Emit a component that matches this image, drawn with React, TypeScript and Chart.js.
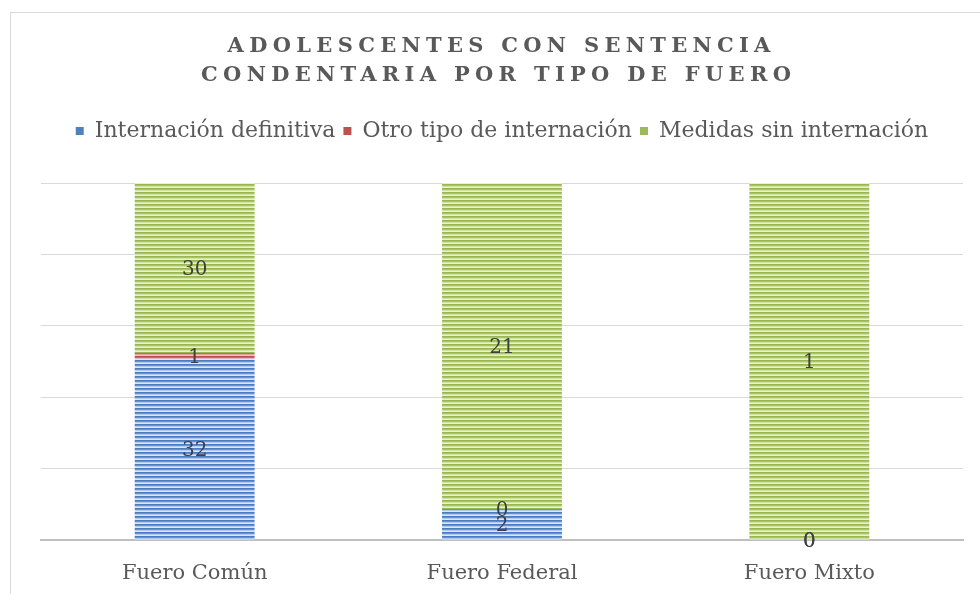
import React, { useEffect, useRef } from "react";
import { Chart, registerables } from "chart.js";

Chart.register(...registerables);

const categories = ["Fuero Común", "Fuero Federal", "Fuero Mixto"];
const seriesNames = ["Internación definitiva", "Otro tipo de internación", "Medidas sin internación"];
const internacionDefinitiva = [32, 2, 0];
const otroTipo = [1, 0, 0];
const medidasSin = [30, 21, 1];
const titleLines = ["ADOLESCENTES CON SENTENCIA", "CONDENTARIA POR TIPO DE FUERO"];

const FONT = '"DejaVu Serif", serif';

function stripe(rows: string[]): CanvasPattern | string {
  const c = document.createElement("canvas");
  c.width = 4;
  c.height = rows.length;
  const x = c.getContext("2d");
  if (!x) return rows[0];
  rows.forEach((col, r) => {
    x.fillStyle = col;
    x.fillRect(0, r, 4, 1);
  });
  return x.createPattern(c, "repeat") || rows[0];
}

export default function App() {
  const ref = useRef<HTMLCanvasElement | null>(null);
  useEffect(() => {
    const canvas = ref.current;
    if (!canvas) return;
    const raw = [internacionDefinitiva, otroTipo, medidasSin];
    const totals = categories.map((_, i) => raw.reduce((s, a) => s + a[i], 0));
    const pct = raw.map((arr) => arr.map((v, i) => (totals[i] ? (v / totals[i]) * 100 : 0)));
    const solid = ["#4f81bd", "#c0504d", "#9bbb59"];
    const fills = [
      stripe(["#4a7cc4", "#6390d0", "#b3cbec", "#dbe6f5"]),
      stripe(["#c0504d", "#cc6562", "#e4a09e", "#f0c4c3"]),
      stripe(["#98b84f", "#a8c466", "#d2e2a6", "#e9f0d4"]),
    ];

    const bgPlugin = {
      id: "bg",
      beforeDraw(chart: any) {
        const ctx = chart.ctx;
        ctx.save();
        ctx.fillStyle = "#ffffff";
        ctx.fillRect(0, 0, chart.width, chart.height);
        ctx.strokeStyle = "#d9d9d9";
        ctx.lineWidth = 1;
        ctx.strokeRect(10.5, 12.5, 1000, 1000);
        ctx.restore();
      },
    };

    const titlePlugin = {
      id: "spacedTitle",
      afterDraw(chart: any) {
        const ctx = chart.ctx;
        ctx.save();
        ctx.font = "bold 21px " + FONT;
        ctx.fillStyle = "#595959";
        ctx.textAlign = "center";
        ctx.textBaseline = "middle";
        const ls = 5.3;
        (ctx as any).letterSpacing = ls + "px";
        const cx = 499 + ls / 2;
        ctx.fillText(titleLines[0], cx, 47);
        ctx.fillText(titleLines[1], cx - 3, 76);
        ctx.restore();
      },
    };

    const labelPlugin = {
      id: "valueLabels",
      afterDatasetsDraw(chart: any) {
        const ctx = chart.ctx;
        ctx.save();
        ctx.font = "20px " + FONT;
        ctx.fillStyle = "#404040";
        ctx.textAlign = "center";
        ctx.textBaseline = "middle";
        chart.data.datasets.forEach((ds: any, di: number) => {
          const meta = chart.getDatasetMeta(di);
          meta.data.forEach((bar: any, i: number) => {
            const { x, y, base } = bar.getProps(["x", "y", "base"], true);
            const v = raw[di][i];
            ctx.fillText(String(v), x, (y + base) / 2 + 2);
          });
        });
        ctx.restore();
      },
    };

    const chart = new Chart(canvas, {
      type: "bar",
      data: {
        labels: categories,
        datasets: seriesNames.map((name, i) => ({
          label: name,
          data: pct[i],
          backgroundColor: fills[i] as any,
          borderWidth: 0,
          barPercentage: 1,
          categoryPercentage: 0.39,
        })),
      },
      options: {
        responsive: false,
        animation: false,
        devicePixelRatio: 1,
        layout: { padding: { top: 112, left: 41, right: 17, bottom: 10 } },
        plugins: {
          title: { display: false },
          tooltip: { enabled: false },
          legend: {
            position: "top",
            labels: {
              boxWidth: 8,
              boxHeight: 8,
              padding: 8,
              color: "#595959",
              font: { family: FONT, size: 22 },
              generateLabels(ch: any) {
                const items = Chart.defaults.plugins.legend.labels.generateLabels(ch);
                return items.map((it: any, i: number) => ({
                  ...it,
                  fillStyle: solid[i],
                  strokeStyle: solid[i],
                  lineWidth: 0,
                }));
              },
            },
          },
        },
        scales: {
          x: {
            stacked: true,
            grid: { display: false, drawTicks: false },
            border: { display: true, color: "#bfbfbf", width: 2 },
            ticks: { color: "#595959", font: { family: FONT, size: 21 }, padding: 21 },
            afterFit(s: any) {
              s.height = 44;
            },
          },
          x2: {
            type: "category",
            position: "top",
            grid: { display: false, drawTicks: false },
            border: { display: false },
            ticks: { display: false },
            afterFit(s: any) {
              s.height = 31;
            },
          } as any,
          y: {
            stacked: true,
            min: 0,
            max: 100,
            ticks: { display: false, stepSize: 20 },
            border: { display: false },
            afterFit(s: any) {
              s.width = 0;
            },
            grid: {
              drawTicks: false,
              color: (c: any) => (c.tick && c.tick.value === 0 ? "rgba(0,0,0,0)" : "#d9d9d9"),
            },
          },
        },
      },
      plugins: [bgPlugin, titlePlugin, labelPlugin],
    });
    return () => chart.destroy();
  }, []);

  return (
    <div style={{ position: "fixed", left: 0, top: 0, width: 980, height: 594, background: "#fff" }}>
      <canvas ref={ref} width={980} height={594} style={{ width: 980, height: 594, display: "block" }} />
    </div>
  );
}
